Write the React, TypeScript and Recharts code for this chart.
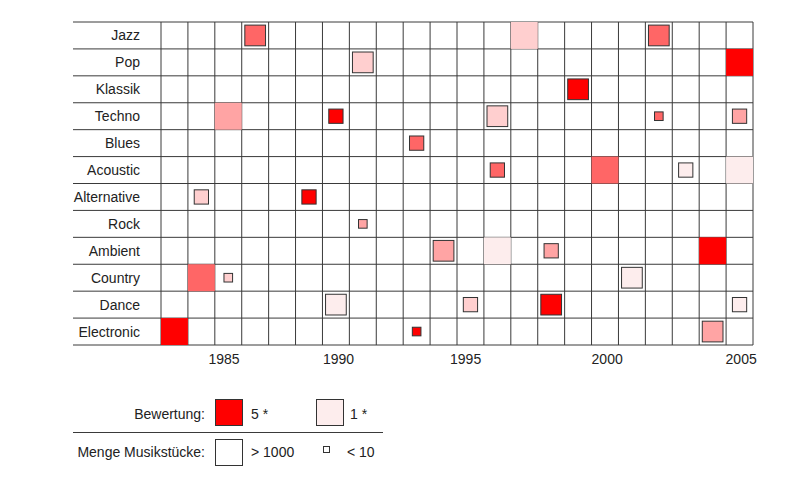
import { ScatterChart, Scatter, XAxis, YAxis, ReferenceLine } from 'recharts';

const genres = ['Jazz', 'Pop', 'Klassik', 'Techno', 'Blues', 'Acoustic', 'Alternative', 'Rock', 'Ambient', 'Country', 'Dance', 'Electronic'];
const periodCount = 22;
const yearLabels = ['1985', '1990', '1995', '2000', '2005'];
const yearTickCols = [2.34, 6.6, 11.32, 16.58, 21.56];

// each cell: [period column, rating 1-5, amount class 1 (<10) .. 4 (>1000)]
const jazz = [[3, 4, 3], [13, 2, 4], [18, 4, 3]];
const pop = [[7, 2, 3], [21, 5, 4]];
const klassik = [[15, 5, 3]];
const techno = [[2, 3, 4], [6, 5, 2], [12, 2, 3], [18, 4, 1], [21, 3, 2]];
const blues = [[9, 4, 2]];
const acoustic = [[12, 4, 2], [16, 4, 4], [19, 1, 2], [21, 1, 4]];
const alternative = [[1, 2, 2], [5, 5, 2]];
const rock = [[7, 3, 1]];
const ambient = [[10, 3, 3], [12, 1, 4], [14, 3, 2], [20, 5, 4]];
const country = [[1, 4, 4], [2, 2, 1], [17, 1, 3]];
const dance = [[6, 1, 3], [11, 2, 2], [14, 5, 3], [21, 1, 2]];
const electronic = [[0, 5, 4], [9, 5, 1], [20, 3, 3]];

const rows = [jazz, pop, klassik, techno, blues, acoustic, alternative, rock, ambient, country, dance, electronic];

const ratingColor: Record<number, string> = { 5: '#ff0000', 4: '#ff6666', 3: '#ffa4a4', 2: '#ffcfcf', 1: '#fdeded' };
const amountSide: Record<number, number> = { 1: 0.32, 2: 0.53, 3: 0.77, 4: 1 };

const W = 800;
const H = 489;
const LABEL_W = 88;
const margin = { top: 22, right: 47, bottom: 114, left: 73 };
const CELL = (W - margin.left - LABEL_W - margin.right) / periodCount;
const LINE = '#3a3a3a';
const TEXT = '#222';

const points = rows.flatMap((cells, r) =>
  cells.map(([c, rating, amount]) => ({ x: c + 0.5, y: r + 0.5, rating, amount }))
);

const CellShape = (props: any) => {
  const { cx, cy, payload } = props;
  const side = CELL * amountSide[payload.amount];
  const full = payload.amount === 4;
  return (
    <rect
      x={cx - side / 2}
      y={cy - side / 2}
      width={side}
      height={side}
      fill={ratingColor[payload.rating]}
      stroke={full ? 'none' : '#333'}
      strokeWidth={1}
    />
  );
};

function LegendBox() {
  return (
    <svg width={W} height={H} style={{ position: 'absolute', left: 0, top: 0, pointerEvents: 'none' }}>
      <g fontSize={14} fill={TEXT}>
        <text x={205} y={419} textAnchor="end">Bewertung:</text>
        <rect x={215.5} y={399.5} width={27} height={26} fill={ratingColor[5]} stroke="#333" />
        <text x={251} y={419}>5 *</text>
        <rect x={316.5} y={399.5} width={27} height={26} fill={ratingColor[1]} stroke="#333" />
        <text x={350} y={419}>1 *</text>
        <line x1={73} x2={383} y1={432.5} y2={432.5} stroke={LINE} />
        <text x={205} y={457} textAnchor="end">Menge Musikstücke:</text>
        <rect x={215.5} y={439.5} width={27} height={26} fill="#fff" stroke="#333" />
        <text x={251} y={457}>&gt; 1000</text>
        <rect x={323.5} y={446.5} width={6} height={6} fill="#fff" stroke="#333" />
        <text x={347} y={457}>&lt; 10</text>
      </g>
    </svg>
  );
}

export default function App() {
  const vLines = Array.from({ length: periodCount + 1 }, (_, i) => i);
  const hLines = Array.from({ length: genres.length + 1 }, (_, i) => i);
  return (
    <div
      style={{
        position: 'absolute',
        left: 0,
        top: 0,
        width: W,
        height: H,
        background: '#fff',
        fontFamily: '"Liberation Sans", Arial, sans-serif',
      }}
    >
      <ScatterChart width={W} height={H} margin={margin}>
        <XAxis
          type="number"
          dataKey="x"
          domain={[0, periodCount]}
          ticks={yearTickCols}
          interval={0}
          tickFormatter={(v: number) => yearLabels[yearTickCols.indexOf(v)]}
          axisLine={false}
          tickLine={false}
          tickSize={0}
          tickMargin={9}
          height={30}
          tick={{ fill: TEXT, fontSize: 14 }}
        />
        <YAxis
          type="number"
          dataKey="y"
          domain={[0, genres.length]}
          reversed
          ticks={genres.map((_, i) => i + 0.5)}
          interval={0}
          tickFormatter={(v: number) => genres[Math.floor(v)]}
          axisLine={false}
          tickLine={false}
          tickSize={0}
          tickMargin={21}
          width={LABEL_W}
          tick={{ fill: TEXT, fontSize: 14 }}
        />
        <Scatter data={points} shape={CellShape} isAnimationActive={false} />
        {vLines.map((k) => (
          <ReferenceLine key={`v${k}`} x={k} stroke={LINE} strokeWidth={1} ifOverflow="visible" />
        ))}
        {hLines.map((k) => (
          <ReferenceLine
            key={`h${k}`}
            segment={[{ x: -LABEL_W / CELL, y: k }, { x: periodCount, y: k }]}
            stroke={LINE}
            strokeWidth={1}
            ifOverflow="visible"
          />
        ))}
      </ScatterChart>
      <LegendBox />
    </div>
  );
}
